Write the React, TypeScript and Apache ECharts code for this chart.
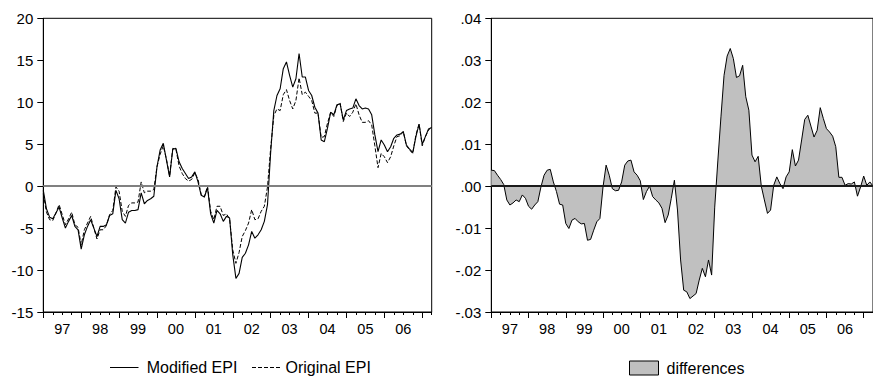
import React, { useEffect, useRef } from "react";
import * as echarts from "echarts";

const START_YEAR = 1997;
const N_MONTHS = 124;
const months: string[] = Array.from({ length: N_MONTHS }, (_, i) =>
  `${START_YEAR + Math.floor(i / 12)}M${String((i % 12) + 1).padStart(2, "0")}`
);
const yearLabels = ["97", "98", "99", "00", "01", "02", "03", "04", "05", "06", "07"];
const seriesNames = ["Modified EPI", "Original EPI", "differences"];

// Modified EPI (solid line), monthly from 1997M01
const modifiedEPI = [
  -0.5, -2.7, -3.7, -3.9, -3.2, -2.5, -3.8, -5.0, -4.2, -3.5, -4.8, -5.2,
  -7.5, -5.8, -4.8, -4.0, -5.0, -6.0, -4.8, -4.8, -4.6, -3.5, -3.3, -0.5,
  -1.5, -4.0, -4.4, -3.1, -2.9, -2.9, -2.8, -0.8, -2.1, -1.7, -1.5, -1.2,
  2.3, 4.3, 5.1, 3.1, 1.1, 4.4, 4.5, 2.9, 2.1, 1.5, 0.9, 1.1,
  1.7, 0.5, -1.1, -1.3, -0.2, -3.3, -4.4, -2.9, -3.3, -4.2, -3.6, -3.8,
  -8.2, -11.0, -10.4, -8.5, -8.0, -7.0, -5.4, -6.2, -5.8, -5.2, -4.2, -2.2,
  4.0, 9.0, 10.8, 11.6, 14.0, 14.8, 13.2, 11.8, 12.8, 15.8, 13.0, 13.0,
  11.4, 10.8, 9.4, 8.7, 5.5, 5.3, 6.9, 8.8, 8.5, 9.7, 9.8, 7.9,
  9.0, 9.2, 9.3, 10.4, 9.6, 9.2, 9.3, 9.2, 8.5, 6.1, 4.1, 5.5,
  4.9, 4.1, 4.7, 5.7, 6.1, 6.2, 6.5, 4.9, 4.4, 4.0, 5.9, 7.4,
  5.0, 5.9, 6.8, 7.0,
];

// Original EPI (dashed line)
const originalEPI = [
  -0.9, -3.1, -4.0, -4.1, -3.2, -2.2, -3.4, -4.6, -3.9, -3.1, -4.6, -4.9,
  -7.0, -5.2, -4.4, -3.6, -5.0, -6.3, -5.2, -5.2, -4.7, -3.4, -2.9, -0.1,
  -0.6, -3.0, -3.6, -2.3, -2.0, -2.0, -1.9, 0.5, -0.8, -0.6, -0.6, -0.4,
  2.3, 3.8, 4.8, 3.2, 1.2, 4.5, 4.4, 2.4, 1.5, 0.9, 0.6, 0.8,
  1.6, 0.8, -1.0, -1.3, 0.0, -3.0, -4.0, -2.4, -2.4, -3.5, -3.3, -3.9,
  -7.6, -9.2, -7.9, -6.0, -5.3, -4.4, -2.8, -4.0, -3.9, -3.0, -2.4, -0.1,
  4.5, 8.4, 9.2, 9.0, 10.9, 11.5, 10.2, 9.2, 10.2, 12.9, 10.9, 11.2,
  10.7, 10.2, 8.7, 8.7, 5.8, 5.9, 7.5, 8.8, 8.3, 9.6, 9.9, 7.7,
  8.7, 8.3, 8.8, 9.8, 8.5, 7.6, 7.6, 7.8, 7.3, 4.8, 2.2, 3.9,
  3.5, 2.8, 3.5, 4.8, 5.9, 6.0, 6.5, 4.8, 4.3, 3.9, 6.1, 7.4,
  4.8, 5.9, 6.7, 7.0,
];

// differences (shaded area)
const differences = [
  0.0038, 0.0037, 0.0026, 0.0016, 0.0004, -0.0033, -0.0045, -0.004, -0.0033, -0.0037, -0.0021, -0.0029,
  -0.0048, -0.0055, -0.0045, -0.0037, -0.0002, 0.0026, 0.0038, 0.004, 0.001, -0.0013, -0.0043, -0.0045,
  -0.0089, -0.0101, -0.0081, -0.0077, -0.0085, -0.009, -0.0089, -0.0129, -0.0127, -0.0105, -0.0085, -0.0077,
  -0.0002, 0.005, 0.0026, -0.0006, -0.0011, -0.001, 0.001, 0.005, 0.006, 0.0062, 0.0034, 0.0026,
  0.0013, -0.0032, -0.0013, 0.0, -0.0025, -0.0033, -0.004, -0.0053, -0.0087, -0.0069, -0.0029, 0.0014,
  -0.0057, -0.0176, -0.0248, -0.0252, -0.0268, -0.0262, -0.0256, -0.0224, -0.0196, -0.0216, -0.0176, -0.0212,
  -0.005, 0.006, 0.0165, 0.0264, 0.031, 0.0328, 0.0304, 0.0259, 0.0263, 0.0288, 0.0213, 0.0181,
  0.0074, 0.0058, 0.0071, 0.0, -0.0033, -0.0065, -0.0057, 0.0002, 0.0022, 0.0006, -0.0006, 0.0022,
  0.0034, 0.0087, 0.0048, 0.0062, 0.011, 0.0159, 0.0169, 0.0143, 0.0117, 0.0133, 0.0187, 0.0161,
  0.0137, 0.0129, 0.0119, 0.0094, 0.0021, 0.0021, 0.0002, 0.0006, 0.0005, 0.001, -0.0024, -0.0002,
  0.0024, 0.0002, 0.001, 0.0,
];

const FONT = '"Liberation Sans", Arial, Helvetica, sans-serif';

function xAxesFor(gridIndex: number) {
  return [
    {
      gridIndex,
      type: "category",
      data: months,
      boundaryGap: false,
      axisLine: { show: true, onZero: false, lineStyle: { color: "#000", width: 1 } },
      axisTick: {
        show: true,
        interval: (i: number) => i % 3 === 0,
        length: 3,
        lineStyle: { color: "#000", width: 1 },
      },
      axisLabel: {
        show: true,
        interval: (i: number) => i % 12 === 6,
        formatter: (_v: string, i: number) => yearLabels[Math.floor(i / 12)],
        fontSize: 14.5,
        color: "#000",
        fontFamily: FONT,
        margin: 9,
      },
      splitLine: { show: false },
    },
    {
      gridIndex,
      type: "category",
      data: months,
      boundaryGap: false,
      position: "bottom",
      axisLine: { show: false, onZero: false },
      axisTick: {
        show: true,
        interval: (i: number) => i % 12 === 0,
        length: 6,
        lineStyle: { color: "#000", width: 1 },
      },
      axisLabel: { show: false },
      splitLine: { show: false },
    },
  ];
}

const LEG_Y = 367.5;

export default function App() {
  const ref = useRef<HTMLDivElement>(null);

  useEffect(() => {
    if (!ref.current) return;
    const chart = echarts.init(ref.current, undefined, { renderer: "svg" });
    const option: any = {
      animation: false,
      backgroundColor: "#fff",
      textStyle: { fontFamily: FONT },
      grid: [
        { left: 43.3, top: 18.3, right: 441.3, bottom: 67, show: true, borderColor: "#000", borderWidth: 1 },
        { left: 491.3, top: 18.3, right: -6.7, bottom: 67, show: true, borderColor: "#000", borderWidth: 1 },
      ],
      xAxis: [...xAxesFor(0), ...xAxesFor(1)],
      yAxis: [
        {
          gridIndex: 0,
          type: "value",
          min: -15,
          max: 20,
          interval: 5,
          axisLine: { show: true, lineStyle: { color: "#000", width: 1 } },
          axisTick: { show: true, length: 6, lineStyle: { color: "#000" } },
          axisLabel: { fontSize: 15, color: "#000", margin: 10, fontFamily: FONT },
          splitLine: { show: false },
        },
        {
          gridIndex: 1,
          type: "value",
          min: -0.03,
          max: 0.04,
          interval: 0.01,
          axisLine: { show: true, lineStyle: { color: "#000", width: 1 } },
          axisTick: { show: true, length: 6, lineStyle: { color: "#000" } },
          axisLabel: {
            fontSize: 15,
            color: "#000",
            margin: 10,
            fontFamily: FONT,
            formatter: (v: number) => v.toFixed(2).replace("0.", "."),
          },
          splitLine: { show: false },
        },
      ],
      legend: [
        {
          left: 629,
          top: 360,
          padding: 0,
          itemWidth: 29,
          itemHeight: 14,
          textStyle: { fontSize: 16, color: "#000", fontFamily: FONT, padding: [0, 0, 0, 3] },
          data: [
            {
              name: seriesNames[2],
              icon: "rect",
              itemStyle: { color: "#c0c0c0", borderColor: "#000", borderWidth: 1 },
            },
          ],
        },
      ],
      graphic: [
        {
          type: "line",
          shape: { x1: 110, y1: LEG_Y, x2: 138.5, y2: LEG_Y },
          style: { stroke: "#000", lineWidth: 1 },
        },
        {
          type: "text",
          x: 146.7,
          y: LEG_Y,
          style: { text: seriesNames[0], fontSize: 16, fontFamily: FONT, fill: "#000", verticalAlign: "middle" },
        },
        {
          type: "line",
          shape: { x1: 252, y1: LEG_Y, x2: 280, y2: LEG_Y },
          style: { stroke: "#000", lineWidth: 1, lineDash: [4, 2] },
        },
        {
          type: "text",
          x: 285.5,
          y: LEG_Y,
          style: { text: seriesNames[1], fontSize: 16, fontFamily: FONT, fill: "#000", verticalAlign: "middle" },
        },
      ],
      series: [
        {
          name: seriesNames[0],
          type: "line",
          xAxisIndex: 0,
          yAxisIndex: 0,
          data: modifiedEPI,
          symbol: "none",
          lineStyle: { color: "#000", width: 1.1, type: "solid" },
          itemStyle: { color: "#000" },
          z: 3,
          markLine: {
            silent: true,
            symbol: ["none", "none"],
            label: { show: false },
            lineStyle: { color: "#808080", width: 2, type: "solid" },
            data: [{ yAxis: 0 }],
          },
        },
        {
          name: seriesNames[1],
          type: "line",
          xAxisIndex: 0,
          yAxisIndex: 0,
          data: originalEPI,
          symbol: "none",
          lineStyle: { color: "#000", width: 1, type: [4, 2] },
          itemStyle: { color: "#000" },
          z: 2,
        },
        {
          name: seriesNames[2],
          type: "line",
          xAxisIndex: 2,
          yAxisIndex: 1,
          data: differences,
          symbol: "none",
          lineStyle: { color: "#000", width: 1 },
          itemStyle: { color: "#c0c0c0" },
          areaStyle: { color: "#c0c0c0", opacity: 1 },
          markLine: {
            silent: true,
            symbol: ["none", "none"],
            label: { show: false },
            lineStyle: { color: "#1a1a1a", width: 2, type: "solid" },
            data: [{ yAxis: 0 }],
          },
        },
      ],
    };
    chart.setOption(option);
    return () => chart.dispose();
  }, []);

  return (
    <div
      ref={ref}
      style={{ position: "fixed", left: 0, top: 0, width: 873, height: 379, background: "#fff" }}
    />
  );
}
